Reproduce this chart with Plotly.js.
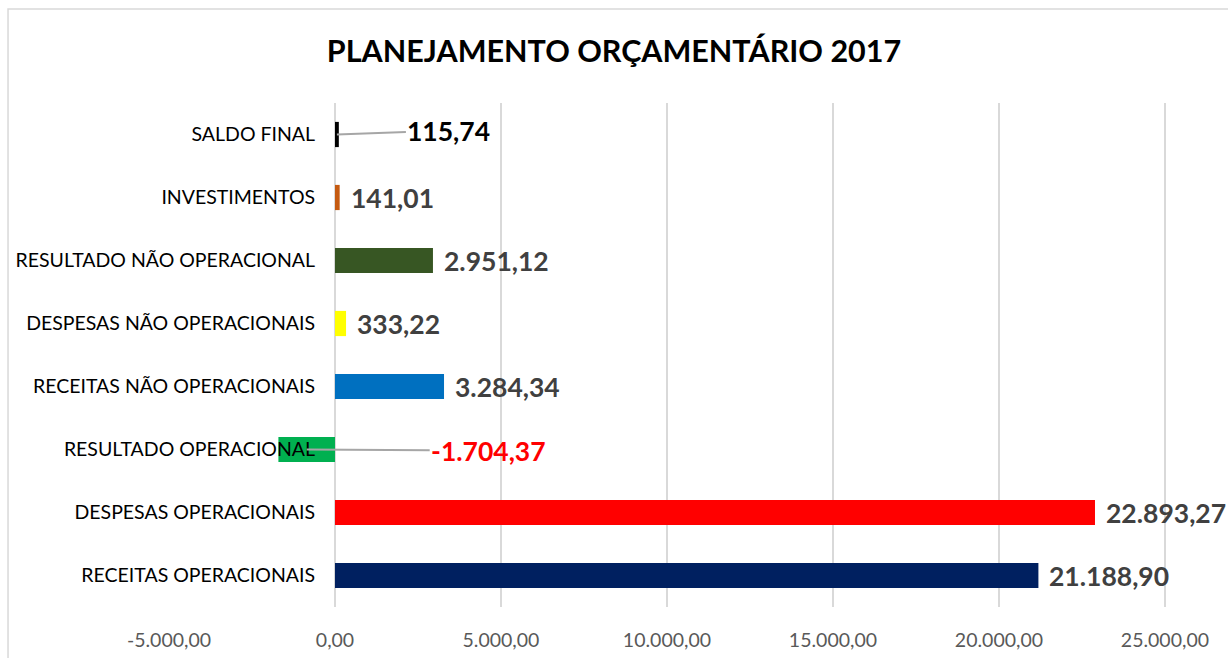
<!DOCTYPE html>
<html>
<head>
<meta charset="utf-8">
<script src="https://cdn.plot.ly/plotly-3.0.1.min.js"></script>
<style>
html,body{margin:0;padding:0;background:#fff;}
#chart{width:1228px;height:658px;}
</style>
</head>
<body>
<div id="chart"></div>
<script>
const categories = [
  "RECEITAS OPERACIONAIS",
  "DESPESAS OPERACIONAIS",
  "RESULTADO OPERACIONAL",
  "RECEITAS NÃO OPERACIONAIS",
  "DESPESAS NÃO OPERACIONAIS",
  "RESULTADO NÃO OPERACIONAL",
  "INVESTIMENTOS",
  "SALDO FINAL"
];
const values = [21188.90, 22893.27, -1704.37, 3284.34, 333.22, 2951.12, 141.01, 115.74];
const barColors = ["#002060", "#FF0000", "#00B050", "#0070C0", "#FFFF00", "#375623", "#C55A11", "#000000"];
const labelColors = ["#404040", "#404040", "#FF0000", "#404040", "#404040", "#404040", "#404040", "#000000"];
const tickVals = [-5000, 0, 5000, 10000, 15000, 20000, 25000];

function fmtBR(v) {
  const neg = v < 0;
  const s = Math.abs(v).toFixed(2);
  let [i, d] = s.split(".");
  i = i.replace(/\B(?=(\d{3})+(?!\d))/g, ".");
  return (neg ? "-" : "") + i + "," + d;
}

const xMin = -5000, xMax = 26900;
const FONT = "Lato, 'Open Sans', sans-serif";

const trace = {
  type: "bar",
  orientation: "h",
  y: categories,
  x: values,
  marker: {color: barColors},
  hoverinfo: "none"
};

const leader = {"SALDO FINAL": {ax: 112, ay: -4}, "RESULTADO OPERACIONAL": {ax: 182, ay: 1}};
const annotations = categories.map((c, i) => {
  const base = {
    y: c, yref: "y", xref: "x",
    text: "<b>" + fmtBR(values[i]) + "</b>",
    font: {family: FONT, size: 26.5, color: labelColors[i]},
  };
  if (leader[c]) {
    return Object.assign(base, {
      x: values[i] / 2,
      showarrow: true, arrowhead: 0, arrowwidth: 2, arrowcolor: "#A6A6A6",
      ax: leader[c].ax, ay: leader[c].ay, standoff: 0
    });
  }
  return Object.assign(base, {
    x: values[i], xanchor: "left", showarrow: false, xshift: 9
  });
});

const layout = {
  width: 1228, height: 658,
  paper_bgcolor: "#fff", plot_bgcolor: "#fff",
  margin: {l: 169, r: 0, t: 103, b: 51},
  title: {
    text: "<b>PLANEJAMENTO ORÇAMENTÁRIO 2017</b>",
    font: {family: FONT, size: 30.5, color: "#000"},
    x: 0.5, xanchor: "center", xref: "container",
    y: 0.922, yanchor: "middle", yref: "container"
  },
  bargap: 0.6,
  showlegend: false,
  xaxis: {
    range: [xMin, xMax],
    tickvals: tickVals,
    ticktext: tickVals.map(fmtBR),
    showgrid: true, gridcolor: "#D9D9D9", gridwidth: 2,
    zeroline: false, showline: false,
    ticks: "outside", ticklen: 16, tickcolor: "rgba(0,0,0,0)",
    tickfont: {family: FONT, size: 19.5, color: "#595959"},
    fixedrange: true
  },
  yaxis: {
    type: "category",
    categoryorder: "array", categoryarray: categories,
    anchor: "free",
    position: (0 - xMin) / (xMax - xMin),
    showgrid: false, zeroline: false, showline: false,
    ticks: "outside", ticklen: 16, tickcolor: "rgba(0,0,0,0)",
    tickfont: {family: FONT, size: 19.5, color: "#000"},
    fixedrange: true
  },
  annotations: annotations,
  shapes: [{
    type: "rect", xref: "paper", yref: "paper",
    x0: -0.152, x1: 1.2, y0: -0.2, y1: 1.1865,
    line: {color: "#D9D9D9", width: 1.5}, fillcolor: "rgba(0,0,0,0)", layer: "below"
  }]
};

Plotly.newPlot("chart", [trace], layout, {displayModeBar: false, staticPlot: true});
</script>
</body>
</html>
